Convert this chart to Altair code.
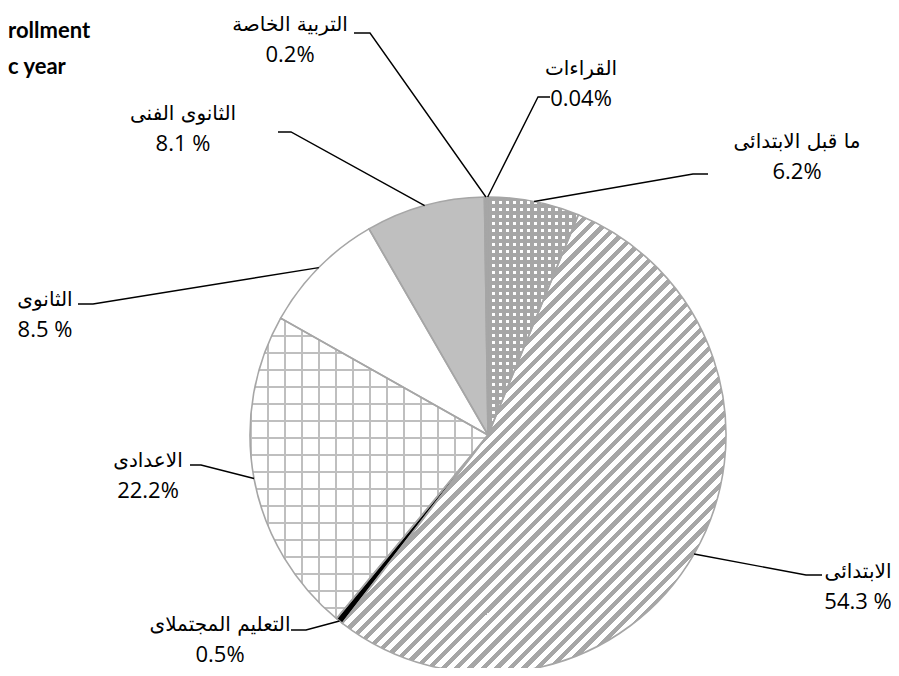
import math
import altair as alt
import pandas as pd

# ---------------- data ----------------
categories = ["ما قبل الابتدائى", "الابتدائى", "التعليم المجتملاى", "الاعدادى",
              "الثانوى", "الثانوى الفنى", "التربية الخاصة", "القراءات"]
values = [6.2, 54.3, 0.5, 22.2, 8.5, 8.1, 0.2, 0.04]
pct_labels = ["6.2%", "54.3 %", "0.5%", "22.2%", "8.5 %", "8.1 %", "0.2%", "0.04%"]
title_lines = ["rollment", "c year"]

# ---------------- layout / style ----------------
W, H = 883, 660
CX, CY, R = 480, 427, 238
label_cx = [789, 850, 212, 140, 37, 175, 282, 573]
label_cy = [149, 579, 632, 468, 307, 121, 32, 76]
elbow_x = [685, 798, 298, 193, 85, 283, 362, 530]
elbow_y = [166, 567, 622, 457, 296, 124, 25, 89]
end_x = [700, 814, 283, 182, 70, 270, 346, 542]
end_y = [166, 567, 622, 457, 296, 124, 25, 89]
base_colors = ["#ffffff", "#ffffff", "#000000", "#ffffff",
               "#ffffff", "#bfbfbf", "#a6a6a6", "#a6a6a6"]
NAME_FONT = "DejaVu Sans"
NUM_FONT = "Open Sans, Lato, DejaVu Sans"
GREY = "#a6a6a6"

df = pd.DataFrame({"cat": categories, "value": values, "idx": list(range(len(values)))})

total = sum(values)
cum = []
s = 0.0
for v in values:
    cum.append((s, s + v))
    s += v


def wedge_bbox(f0, f1, r):
    t0, t1 = 2 * math.pi * f0 / total, 2 * math.pi * f1 / total
    pts = [(0, 0), (r * math.sin(t0), -r * math.cos(t0)), (r * math.sin(t1), -r * math.cos(t1))]
    for q in [0, math.pi / 2, math.pi, 1.5 * math.pi, 2 * math.pi]:
        if t0 < q < t1:
            pts.append((r * math.sin(q), -r * math.cos(q)))
    xs = [p[0] for p in pts]
    ys = [p[1] for p in pts]
    return max(xs) - min(xs), max(ys) - min(ys)


def band_stops(span, period, lw, line_col, bg_col, phase=0.0):
    stops = []
    n = int(span / period) + 3
    for k in range(-1, n):
        a = (phase + k * period) / span
        b = (phase + k * period + lw) / span
        if b <= 0 or a >= 1:
            continue
        a = max(a, 0.0)
        b = min(b, 1.0)
        stops += [{"offset": round(a, 5), "color": bg_col},
                  {"offset": round(a, 5), "color": line_col},
                  {"offset": round(b, 5), "color": line_col},
                  {"offset": round(b, 5), "color": bg_col}]
    return stops


def grad_h_lines(w, h, period, lw, col, bg):
    return {"gradient": "linear", "x1": 0, "y1": 0, "x2": 0, "y2": 1,
            "stops": band_stops(h, period, lw, col, bg)}


def grad_v_lines(w, h, period, lw, col, bg):
    return {"gradient": "linear", "x1": 0, "y1": 0, "x2": 1, "y2": 0,
            "stops": band_stops(w, period, lw, col, bg)}


def grad_diag(w, h, period, lw, col, bg):
    a, b = 1.0, h / w
    k = (a + b) / (a * a + b * b)
    span = (w + h) / math.sqrt(2)
    return {"gradient": "linear", "x1": 0, "y1": 0, "x2": round(k * a, 5), "y2": round(k * b, 5),
            "stops": band_stops(span, period, lw, col, bg)}


TRANSP = "rgba(255,255,255,0)"

base = alt.Chart(df).transform_joinaggregate(
    total="sum(value)"
).transform_window(
    cum="sum(value)", sort=[alt.SortField("idx")], frame=[None, 0]
).transform_calculate(
    t0="(datum.cum - datum.value) / datum.total",
    t1="datum.cum / datum.total",
)

theta = alt.Theta("t0:Q", scale=alt.Scale(domain=[0, 1]), stack=None)
theta2 = alt.Theta2("t1:Q")

arc_kw = dict(radius=R, x=CX, y=CY)

base_arcs = base.mark_arc(strokeWidth=0, **arc_kw).encode(
    theta=theta, theta2=theta2,
    color=alt.Color("cat:N", scale=alt.Scale(domain=categories, range=base_colors), legend=None),
)

layers = [base_arcs]

# checker-like pattern (pre-primary)
w0, h0 = wedge_bbox(*cum[0], R)
for g in [grad_h_lines(w0, h0, 7, 4, GREY, "#ffffff"), grad_v_lines(w0, h0, 7, 4, GREY, TRANSP)]:
    layers.append(base.transform_filter(alt.datum.cat == categories[0]).mark_arc(
        fill=g, strokeWidth=0, **arc_kw).encode(theta=theta, theta2=theta2))

# diagonal stripes (primary)
w1, h1 = wedge_bbox(*cum[1], R)
layers.append(base.transform_filter(alt.datum.cat == categories[1]).mark_arc(
    fill=grad_diag(w1, h1, 9.5, 4.5, GREY, "#ffffff"), strokeWidth=0, **arc_kw).encode(
    theta=theta, theta2=theta2))

# grid (preparatory)
w3, h3 = wedge_bbox(*cum[3], R)
for g in [grad_h_lines(w3, h3, 17, 2.2, "#bfbfbf", "#ffffff"), grad_v_lines(w3, h3, 17, 2.2, "#bfbfbf", TRANSP)]:
    layers.append(base.transform_filter(alt.datum.cat == categories[3]).mark_arc(
        fill=g, strokeWidth=0, **arc_kw).encode(theta=theta, theta2=theta2))

# outlines
layers.append(base.mark_arc(fillOpacity=0, stroke=GREY, strokeWidth=1.6, **arc_kw).encode(
    theta=theta, theta2=theta2))

# leader lines: slice edge (from data) -> elbow -> end
rows = []
for i, c in enumerate(categories):
    mid = (cum[i][0] + cum[i][1]) / 2 / total * 2 * math.pi
    ex, ey = CX + R * math.sin(mid), CY - R * math.cos(mid)
    rows += [{"cat": c, "p": 0, "x": ex, "y": ey},
             {"cat": c, "p": 1, "x": elbow_x[i], "y": elbow_y[i]},
             {"cat": c, "p": 2, "x": end_x[i], "y": end_y[i]}]
lines_df = pd.DataFrame(rows)
leaders = alt.Chart(lines_df).mark_line(color="black", strokeWidth=1.4).encode(
    x=alt.X("x:Q", scale=None, axis=None),
    y=alt.Y("y:Q", scale=None, axis=None),
    detail="cat:N",
    order="p:Q",
)
layers.append(leaders)

lab_df = pd.DataFrame({
    "name": categories, "pct": pct_labels,
    "x": label_cx,
    "yn": [v - 15 for v in label_cy],
    "yp": [v + 15 for v in label_cy],
})
names = alt.Chart(lab_df).mark_text(font=NAME_FONT, fontSize=20, color="black", align="center", baseline="middle").encode(
    x=alt.X("x:Q", scale=None, axis=None), y=alt.Y("yn:Q", scale=None, axis=None), text="name:N")
pcts = alt.Chart(lab_df).mark_text(font=NUM_FONT, fontSize=22, color="black", align="center", baseline="middle").encode(
    x=alt.X("x:Q", scale=None, axis=None), y=alt.Y("yp:Q", scale=None, axis=None), text="pct:N")
layers += [names, pcts]

title_df = pd.DataFrame({"t": title_lines, "x": [0, 0], "y": [23, 59]})
title = alt.Chart(title_df).mark_text(font="Lato, Open Sans", fontSize=22, fontWeight="bold", color="black",
                                      align="left", baseline="middle").encode(
    x=alt.X("x:Q", scale=None, axis=None), y=alt.Y("y:Q", scale=None, axis=None), text="t:N")
layers.append(title)

chart = alt.layer(*layers).properties(
    width=W, height=H, padding=0, autosize=alt.AutoSizeParams(type="none"), background="white"
).configure_view(stroke=None)

chart.save("out.html", embed_options={"renderer": "svg", "actions": False})
